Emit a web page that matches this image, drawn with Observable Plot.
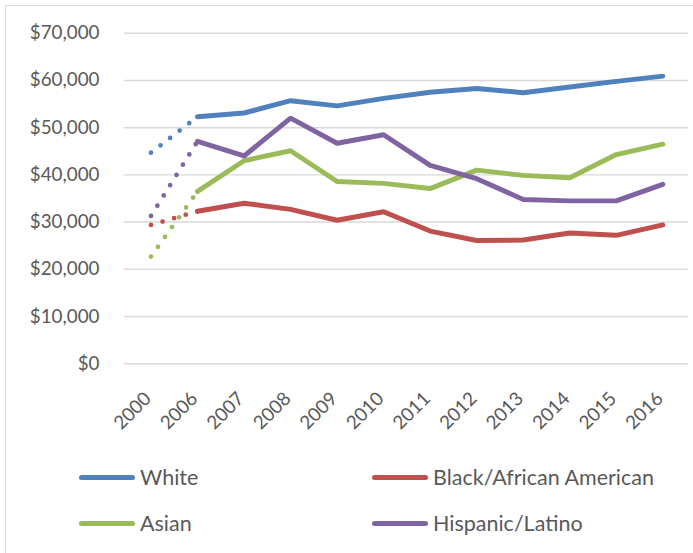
<!DOCTYPE html>
<html>
<head>
<meta charset="utf-8">
<script src="https://cdn.jsdelivr.net/npm/d3@7"></script>
<script src="https://cdn.jsdelivr.net/npm/@observablehq/plot@0.6"></script>
<style>
  html, body { margin: 0; padding: 0; background: #fff; overflow: hidden; }
  #chart { position: relative; width: 693px; height: 553px; overflow: hidden; font-family: Lato, sans-serif; color: #595959; }
  #frame { position: absolute; left: 5px; top: 5px; width: 720px; height: 580px; border: 1.5px solid #d9d9d9; box-sizing: border-box; }
  #plot { position: absolute; left: 0; top: 0; }
  #legend { position: absolute; left: 79px; top: 462px; display: grid; grid-template-columns: 293px 293px; row-gap: 16px; }
  .item { display: flex; align-items: center; height: 30px; font-size: 21.5px; white-space: nowrap; }
  .swatch { width: 56px; height: 5px; border-radius: 3px; margin-right: 5px; }
</style>
</head>
<body>
<div id="chart">
  <div id="frame"></div>
  <div id="plot"></div>
  <div id="legend"></div>
</div>
<script>
// Median household income by race/ethnicity
const years = ["2000", "2006", "2007", "2008", "2009", "2010", "2011", "2012", "2013", "2014", "2015", "2016"];
const white    = [44700, 52300, 53100, 55700, 54600, 56200, 57500, 58300, 57400, 58600, 59800, 60900];
const black    = [29400, 32300, 34000, 32700, 30400, 32200, 28100, 26100, 26200, 27700, 27200, 29400];
const asian    = [22700, 36500, 43000, 45100, 38600, 38200, 37100, 41000, 39900, 39400, 44300, 46500];
const hispanic = [31300, 47100, 44000, 52000, 46700, 48500, 42000, 39200, 34800, 34500, 34500, 38000];

const seriesNames  = ["White", "Black/African American", "Asian", "Hispanic/Latino"];
const seriesValues = [white, black, asian, hispanic];
const seriesColors = ["#4f81bd", "#c0504d", "#9bbb59", "#8064a2"];
const yTicks = [0, 10000, 20000, 30000, 40000, 50000, 60000, 70000];

// long-format rows: one per (series, year)
const rows = seriesNames.flatMap((name, i) =>
  years.map((year, j) => ({name, year, value: seriesValues[i][j], color: seriesColors[i]}))
);

const W = 700, H = 450, plotBottom = 367;

// 2000 -> 2006 gap drawn dotted, yearly data from 2006 on drawn solid
const seriesMarks = seriesNames.flatMap((name) => {
  const own = rows.filter(d => d.name === name);
  const gap = own.filter(d => d.year === "2000" || d.year === "2006");
  const yearly = own.filter(d => d.year !== "2000");
  return [
    Plot.line(gap, {x: "year", y: "value", stroke: "color", strokeWidth: 4.8,
      strokeDasharray: "0 12.2", strokeLinecap: "round"}),
    Plot.line(yearly, {x: "year", y: "value", stroke: "color", strokeWidth: 5,
      strokeLinecap: "round", strokeLinejoin: "round"})
  ];
});

const chart = Plot.plot({
  width: W,
  height: H,
  marginLeft: 125,
  marginRight: 5,
  marginTop: 33,
  marginBottom: H - plotBottom,
  style: {fontFamily: "Lato, sans-serif", color: "#595959", background: "transparent", overflow: "hidden"},
  x: {type: "point", domain: years, padding: 0.5, label: null},
  y: {domain: [0, 70000], label: null},
  color: {type: "identity"},
  marks: [
    Plot.gridY(yTicks, {stroke: "#d9d9d9", strokeOpacity: 1, strokeWidth: 1.5}),
    Plot.axisY(yTicks, {tickFormat: d3.format("$,"), tickSize: 0, tickPadding: 25, fontSize: 19, label: null}),
    Plot.axisX({tickRotate: -45, tickSize: 0, tickPadding: 32, dx: -3, fontSize: 19, label: null}),
    ...seriesMarks
  ]
});
document.getElementById("plot").appendChild(chart);

// legend below the plot, two columns
const legend = d3.select("#legend");
seriesNames.forEach((name, i) => {
  const item = legend.append("div").attr("class", "item");
  item.append("div").attr("class", "swatch").style("background", seriesColors[i]);
  item.append("span").text(name);
});
</script>
</body>
</html>
